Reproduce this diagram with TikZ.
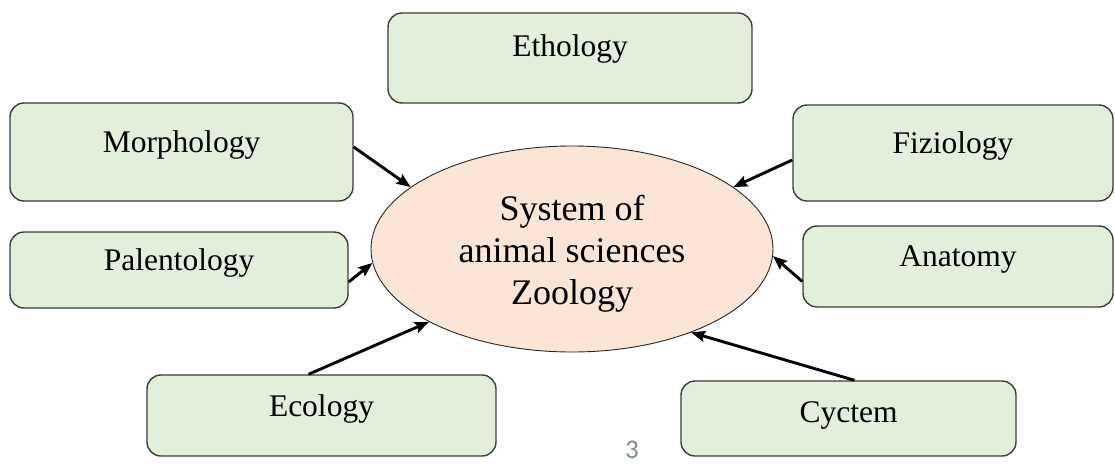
\documentclass[tikz,border=0pt]{standalone}
\usepackage{fontspec}
\setmainfont{Liberation Serif}
\newfontfamily\numfont{Carlito}
\usetikzlibrary{arrows.meta,shapes.geometric}
\definecolor{boxfill}{RGB}{226,239,218}
\definecolor{boxline}{RGB}{60,60,60}
\definecolor{ellfill}{RGB}{251,229,214}
\definecolor{pagenum}{RGB}{125,138,160}
\tikzset{
  box/.style={draw=boxline, line width=1.4pt, fill=boxfill, rounded corners=14pt,
    inner sep=0pt, font=\fontsize{31.5}{36}\selectfont, text height=0pt, text depth=0pt},
  zell/.style={ellipse, draw=black!85, line width=0.9pt, fill=ellfill, inner sep=0pt,
    minimum width=402pt, minimum height=206pt},
  ztext/.style={align=center, font=\fontsize{36}{42}\selectfont},
  conn/.style={line width=2.9pt, -{Stealth[length=14pt,width=11pt,inset=2pt]}}
}
\begin{document}
\begin{tikzpicture}[x=1pt,y=-1pt]
\useasboundingbox (0,0) rectangle (1115,463);
\node[box, minimum width=364pt, minimum height=90pt, text depth=4pt] (eth) at (570,58) {Ethology};
\node[box, minimum width=343pt, minimum height=98pt] (morph) at (181.5,152) {Morphology};
\node[box, minimum width=338pt, minimum height=76pt] (pal) at (179,270) {Palentology};
\node[box, minimum width=320pt, minimum height=96pt] (fiz) at (953,153) {Fiziology};
\node[box, minimum width=310pt, minimum height=81pt] (ana) at (958,266.5) {Anatomy};
\node[box, minimum width=349pt, minimum height=81pt, text height=2pt] (eco) at (321.5,415.5) {Ecology};
\node[box, minimum width=335pt, minimum height=75pt, text height=7pt] (cyc) at (848.5,418.5) {Cyctem};
\node[zell] (zoo) at (572,249) {};
\node[ztext] (zootxt) at ([yshift=-5pt]zoo.center) {System of\\animal sciences\\Zoology};
\node[font=\numfont\fontsize{27}{30}\selectfont, text=pagenum, anchor=base, inner sep=0pt] (pnum) at (632,458) {3};
\draw[conn] ([yshift=5pt]morph.east) -- (zoo.159);
\draw[conn] ([yshift=-12pt]pal.east) -- (zoo.184);
\draw[conn] ([yshift=-7pt]fiz.west) -- (zoo.21);
\draw[conn] ([yshift=-15pt]ana.west) -- (zoo.358);
\draw[conn] ([xshift=-13pt]eco.north) -- (zoo.207.7);
\draw[conn] ([xshift=6pt]cyc.north) -- (zoo.325);
\end{tikzpicture}
\end{document}
